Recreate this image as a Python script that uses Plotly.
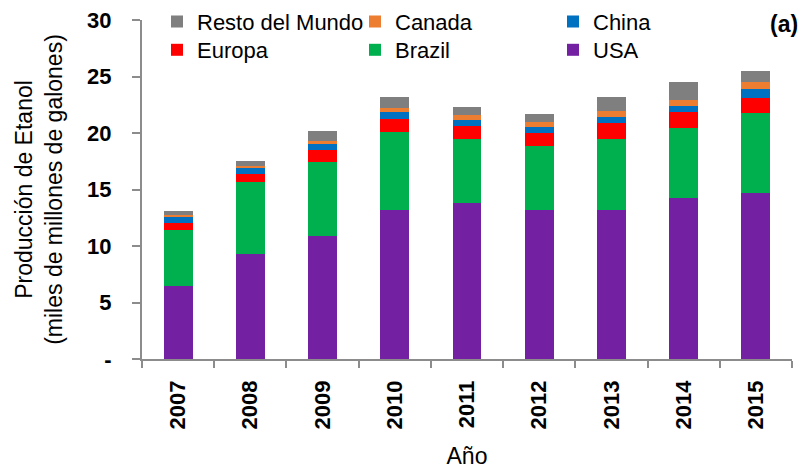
import plotly.graph_objects as go

years = ["2007", "2008", "2009", "2010", "2011", "2012", "2013", "2014", "2015"]
usa = [6.5, 9.3, 10.85, 13.2, 13.85, 13.2, 13.2, 14.27, 14.7]
brazil = [4.95, 6.4, 6.6, 6.9, 5.6, 5.65, 6.27, 6.15, 7.1]
europa = [0.55, 0.65, 1.02, 1.17, 1.15, 1.14, 1.41, 1.4, 1.32]
china = [0.56, 0.55, 0.56, 0.63, 0.55, 0.56, 0.55, 0.6, 0.8]
canada = [0.21, 0.2, 0.24, 0.3, 0.45, 0.45, 0.5, 0.53, 0.58]
resto = [0.33, 0.4, 0.95, 1.0, 0.73, 0.7, 1.3, 1.53, 1.0]

y_tickvals = [0, 5, 10, 15, 20, 25, 30]
y_ticktext = ["-", "5", "10", "15", "20", "25", "30"]

FONT = "Liberation Sans, Arial, sans-serif"

series = [
    ("USA", usa, "#7320A3", "legend2"),
    ("Brazil", brazil, "#00B04F", "legend2"),
    ("Europa", europa, "#FF0000", "legend2"),
    ("China", china, "#0070C0", "legend"),
    ("Canada", canada, "#ED7D31", "legend"),
    ("Resto del Mundo", resto, "#7F7F7F", "legend"),
]

fig = go.Figure()
for name, vals, color, lg in series:
    fig.add_trace(go.Bar(
        x=years, y=vals, name=name, legend=lg,
        marker=dict(color=color, line=dict(width=0)),
        width=0.4,
    ))

legend_common = dict(
    orientation="h", xref="container", yref="container",
    xanchor="left", yanchor="middle",
    entrywidth=153, entrywidthmode="pixels",
    traceorder="reversed", itemwidth=30,
    font=dict(family=FONT, size=22, color="#000"),
    bgcolor="rgba(0,0,0,0)", borderwidth=0,
)

fig.update_layout(
    width=806, height=472,
    margin=dict(l=142, r=14, t=20, b=113, autoexpand=False),
    paper_bgcolor="white", plot_bgcolor="white",
    barmode="stack", bargap=0.6,
    font=dict(family=FONT, color="#000"),
    legend=dict(**legend_common, x=157 / 806, y=1 - 21.7 / 472),
    legend2=dict(**legend_common, x=157 / 806, y=1 - 50 / 472),
    xaxis=dict(
        type="category",
        showline=True, linecolor="#8c8c8c", linewidth=1.5,
        ticks="outside", tickson="boundaries", ticklen=7, tickcolor="#8c8c8c", tickwidth=1.5,
        tickangle=-90,
        tickfont=dict(family=FONT, size=22, color="#000", weight="bold"),
        ticklabelstandoff=11,
        showgrid=False, zeroline=False,
        title=dict(text="Año", font=dict(family=FONT, size=23, color="#000"), standoff=19),
    ),
    yaxis=dict(
        range=[0, 30],
        tickvals=y_tickvals, ticktext=y_ticktext,
        showline=True, linecolor="#8c8c8c", linewidth=2,
        ticks="outside", ticklen=8, tickcolor="#8c8c8c", tickwidth=2,
        tickfont=dict(family=FONT, size=22, color="#000", weight="bold"),
        ticklabelstandoff=16,
        showgrid=False, zeroline=False,
        title=dict(text="Producción de Etanol<br>(miles de millones de galones)",
                   font=dict(family=FONT, size=23, color="#000"), standoff=18),
    ),
    annotations=[
        dict(text="<b>(a)</b>", xref="paper", yref="paper", x=1 + 8 / 650, y=1 + (20 - 24) / 339,
             xanchor="right", yanchor="middle", showarrow=False,
             font=dict(family=FONT, size=23, color="#000")),
    ],
)

fig.write_html("out.html", config={"displayModeBar": False},
               post_script="document.body.style.margin='0';")
